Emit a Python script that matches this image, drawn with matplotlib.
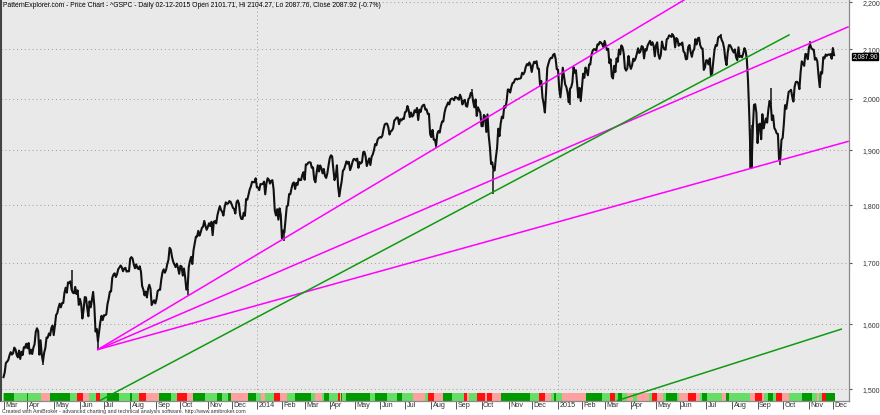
import numpy as np
import pandas as pd
import matplotlib
matplotlib.use('Agg')
import matplotlib.pyplot as plt
import matplotlib.transforms as mtransforms
from matplotlib.ticker import FixedLocator, NullLocator

plt.rcParams['font.family'] = ['Liberation Sans', 'DejaVu Sans']

# exchange holidays (no bars on these days)
holidays = ['2013-03-29', '2013-05-27', '2013-07-04', '2013-09-02', '2013-11-28', '2013-12-25',
            '2014-01-01', '2014-01-20', '2014-02-17', '2014-04-18', '2014-05-26', '2014-07-04',
            '2014-09-01', '2014-11-27', '2014-12-25',
            '2015-01-01', '2015-01-19', '2015-02-16', '2015-04-03', '2015-05-25', '2015-07-03',
            '2015-09-07', '2015-11-26']

# daily closes ^GSPC
close_2013 = [
    1518.2, 1525.2, 1539.8, 1541.5, 1544.3, 1551.2, 1556.2, 1552.5, 1554.5, 1563.2,
    1560.7, 1552.1, 1548.3, 1558.7, 1545.8, 1556.9, 1551.7, 1563.8, 1562.9, 1569.2,
    1562.2, 1570.3, 1553.7, 1560.0, 1553.3, 1563.1, 1568.6, 1587.7, 1593.4, 1588.9,
    1552.4, 1574.6, 1552.0, 1541.6, 1555.3, 1562.5, 1578.8, 1578.8, 1585.2, 1582.2, 1593.6, 1597.6,
    1582.7, 1597.6, 1614.4, 1617.5, 1626.0, 1632.7, 1626.7, 1633.7, 1633.8, 1650.3,
    1658.8, 1650.5, 1667.5, 1666.1, 1669.2, 1655.4, 1650.5, 1649.6, 1660.1, 1648.4, 1654.4, 1630.7,
    1640.4, 1631.4, 1608.9, 1622.6, 1643.4, 1642.8, 1626.1, 1612.5, 1636.4, 1626.7,
    1639.0, 1651.8, 1628.9, 1588.2, 1592.4, 1573.1, 1588.0, 1603.3, 1613.2, 1606.3,
    1614.1, 1614.1, 1615.4, 1631.9, 1640.5, 1652.3, 1652.6, 1675.0, 1680.2, 1682.5,
    1676.3, 1680.9, 1689.4, 1692.1, 1695.5, 1692.4, 1685.9, 1690.3, 1691.7, 1685.3, 1686.0, 1685.7,
    1706.9, 1709.7, 1707.1, 1697.4, 1690.9, 1697.5, 1691.4, 1689.5, 1694.2, 1685.4,
    1661.3, 1655.8, 1646.1, 1652.4, 1642.8, 1657.0, 1663.5, 1656.8, 1630.5, 1635.0, 1638.2, 1633.0,
    1639.8, 1653.1, 1655.1, 1655.2, 1671.7, 1684.0, 1689.1, 1683.4, 1688.0, 1697.6,
    1704.8, 1725.5, 1722.3, 1709.9, 1701.8, 1697.4, 1692.8, 1698.7, 1691.8, 1681.6,
    1695.0, 1693.9, 1678.7, 1690.5, 1676.1, 1655.5, 1656.4, 1692.6, 1703.2, 1710.1,
    1698.1, 1721.5, 1733.2, 1744.5, 1744.7, 1754.7, 1746.4, 1752.1, 1759.8, 1762.1, 1772.0, 1763.3, 1756.5,
    1761.6, 1767.9, 1763.0, 1770.5, 1747.2, 1770.6, 1771.9, 1767.7, 1782.0, 1790.6,
    1798.2, 1791.5, 1787.9, 1781.4, 1795.9, 1804.8, 1802.5, 1802.8, 1807.2, 1805.8,
    1800.9, 1795.2, 1792.8, 1785.0, 1805.1, 1808.4, 1802.6, 1782.2, 1775.5, 1775.3,
    1786.5, 1781.0, 1810.7, 1809.6, 1818.3, 1828.0, 1833.3, 1842.0, 1841.4, 1841.1, 1848.4]
close_2014 = [
    1832.0, 1831.4, 1826.8, 1837.9, 1837.5, 1838.1, 1842.4, 1819.2, 1838.9, 1848.4,
    1845.9, 1838.7, 1843.8, 1844.9, 1828.5, 1790.3, 1781.6, 1792.5, 1774.2, 1794.2, 1782.6,
    1741.9, 1755.2, 1751.6, 1773.4, 1797.0, 1799.8, 1819.8, 1819.3, 1829.8, 1838.6,
    1840.8, 1828.8, 1839.8, 1836.3, 1847.6, 1845.1, 1845.2, 1854.3, 1859.5,
    1845.7, 1873.9, 1873.8, 1877.0, 1878.0, 1877.2, 1867.6, 1868.2, 1846.3, 1841.1,
    1858.8, 1872.3, 1860.8, 1872.0, 1866.5, 1857.4, 1865.6, 1852.6, 1849.0, 1857.6, 1872.3,
    1885.5, 1890.9, 1888.8, 1865.1, 1845.0, 1852.0, 1872.2, 1833.1, 1815.7, 1830.6,
    1843.0, 1862.3, 1864.9, 1871.9, 1879.6, 1875.4, 1878.6, 1863.4, 1869.4, 1878.3, 1884.0,
    1883.7, 1881.1, 1884.7, 1867.7, 1878.2, 1875.6, 1878.5, 1896.7, 1897.5, 1888.5,
    1870.9, 1877.9, 1885.1, 1872.8, 1888.0, 1892.5, 1900.5, 1911.9, 1909.8, 1920.0, 1923.6,
    1925.0, 1924.2, 1927.9, 1940.5, 1949.4, 1951.3, 1950.8, 1943.9, 1930.1, 1936.2,
    1937.8, 1942.0, 1957.0, 1959.5, 1962.9, 1962.6, 1950.0, 1959.5, 1957.2, 1961.0, 1960.2,
    1973.3, 1974.6, 1985.4, 1977.7, 1963.7, 1972.8, 1964.7, 1967.6, 1977.1, 1973.3,
    1981.6, 1958.1, 1978.2, 1973.6, 1983.5, 1987.0, 1988.0, 1978.3, 1978.9, 1970.0, 1970.1, 1930.7,
    1925.2, 1939.0, 1920.2, 1920.2, 1909.6, 1931.6, 1936.9, 1933.8, 1946.7, 1955.2,
    1955.1, 1971.7, 1981.6, 1986.5, 1992.4, 1988.4, 1997.9, 2000.0, 2000.1, 1996.7, 2003.4,
    2002.3, 2000.7, 1997.7, 2007.7, 2001.5, 1988.4, 1995.7, 1997.5, 1985.5, 1984.1,
    1999.0, 2001.6, 2011.4, 2010.4, 1994.3, 1982.8, 1998.3, 1966.0, 1982.9, 1977.8, 1972.3,
    1946.2, 1946.2, 1967.9, 1964.8, 1935.1, 1968.9, 1928.2, 1906.1, 1874.7, 1877.7,
    1862.5, 1862.8, 1886.8, 1904.0, 1941.3, 1927.1, 1950.8, 1964.6, 1961.6, 1985.1, 1982.3, 1994.7, 2018.1,
    2017.8, 2012.1, 2023.6, 2031.2, 2031.9, 2038.3, 2039.7, 2038.3, 2039.8, 2039.8,
    2041.3, 2051.8, 2048.7, 2052.8, 2063.5, 2069.4, 2067.0, 2072.8, 2067.6,
    2053.4, 2066.6, 2074.3, 2071.9, 2075.4, 2060.3, 2059.8, 2026.1, 2035.3, 2002.3,
    1989.6, 1972.7, 2012.9, 2061.2, 2070.7, 2078.5, 2082.2, 2081.9, 2088.8, 2090.6, 2080.4, 2058.9]
close_2015 = [
    2058.2, 2020.6, 2002.6, 2025.9, 2062.1, 2044.8, 2028.3, 2023.0, 2011.3, 1992.7,
    2019.4, 2022.6, 2032.1, 2063.2, 2051.8, 2057.1, 2029.6, 2002.2, 2021.3, 1995.0,
    2020.9, 2050.0, 2041.5, 2062.5, 2055.5, 2046.7, 2068.6, 2068.5, 2088.5, 2097.0,
    2100.3, 2099.7, 2097.5, 2110.3, 2109.7, 2115.5, 2113.9, 2110.7, 2104.5,
    2117.4, 2107.8, 2098.5, 2101.0, 2071.3, 2079.4, 2044.2, 2040.2, 2066.0, 2053.4,
    2081.2, 2074.3, 2099.5, 2089.3, 2108.1, 2104.4, 2091.5, 2061.1, 2056.2, 2061.0, 2086.2, 2067.9,
    2059.7, 2067.0, 2080.6, 2076.3, 2081.9, 2091.2, 2102.1, 2092.4, 2095.8, 2106.6,
    2105.0, 2081.2, 2100.4, 2097.3, 2108.0, 2112.9, 2117.7, 2108.9, 2114.8, 2106.9, 2085.5,
    2108.3, 2114.5, 2089.5, 2080.2, 2088.0, 2116.1, 2105.3, 2099.9, 2099.1, 2121.1,
    2122.7, 2129.2, 2127.8, 2125.9, 2130.8, 2126.1, 2104.2, 2123.5, 2120.8, 2107.4,
    2111.7, 2109.6, 2114.1, 2095.8, 2092.8, 2079.3, 2080.2, 2105.2, 2108.9, 2094.1,
    2084.4, 2096.3, 2100.4, 2121.2, 2110.0, 2122.9, 2124.2, 2108.6, 2102.3, 2101.5, 2057.6, 2063.1,
    2077.4, 2076.8, 2068.8, 2081.3, 2046.7, 2051.3, 2076.6, 2099.6, 2109.0, 2107.4,
    2124.3, 2126.6, 2128.3, 2119.2, 2114.2, 2102.2, 2079.7, 2067.6, 2093.3, 2108.6, 2108.6, 2103.8,
    2098.0, 2093.3, 2099.8, 2083.6, 2077.6, 2104.2, 2084.1, 2086.1, 2083.4, 2091.5,
    2102.4, 2096.9, 2079.6, 2035.7, 1970.9, 1893.2, 1867.6, 1940.5, 1987.7, 1988.9, 1972.2,
    1913.9, 1948.9, 1951.1, 1921.2, 1969.4, 1942.0, 1952.3, 1961.1, 1953.0, 1978.1,
    1995.3, 1990.2, 1958.0, 1967.0, 1942.7, 1938.8, 1932.2, 1931.3, 1881.8, 1884.1, 1920.0,
    1923.8, 1951.4, 1987.1, 1979.9, 1995.8, 2013.4, 2014.9, 2017.5, 2003.7, 1994.2,
    2023.9, 2033.1, 2033.7, 2030.8, 2018.9, 2052.5, 2075.2, 2071.2, 2065.9, 2090.4, 2089.4, 2079.4,
    2104.1, 2109.8, 2102.3, 2099.9, 2099.2, 2078.6, 2081.7, 2075.0, 2046.0, 2023.0,
    2053.2, 2050.4, 2083.6, 2081.2, 2089.2, 2086.6, 2089.1, 2088.9, 2090.1, 2080.4,
    2102.6, 2087.9]

# intraday extremes that stick out of the close line
low_dates = ['2013-04-18', '2013-06-24', '2013-10-09', '2014-02-05', '2014-04-11', '2014-08-07',
             '2014-10-15', '2014-12-16', '2015-01-16', '2015-08-24', '2015-08-25', '2015-09-29',
             '2015-11-13']
low_values = [1536.0, 1560.3, 1646.5, 1737.9, 1814.4, 1904.8,
              1820.7, 1972.6, 1988.1, 1867.0, 1867.1, 1871.9,
              2022.0]
high_dates = ['2013-05-22', '2013-08-02', '2014-09-19', '2015-05-20', '2015-07-20', '2015-11-03',
              '2015-08-24', '2015-08-25', '2015-09-17']
high_values = [1687.2, 1709.7, 2019.3, 2134.7, 2132.8, 2116.5,
               1940.6, 1948.0, 2020.9]

# trend lines as (bar number, price) end points
magenta_x = [[79, 569.5], [79, 706.7], [79, 706.7]]
magenta_y = [[1560.3, 2205], [1560.3, 2147], [1560.3, 1917]]
green_x = [[80.8, 657.3], [513.8, 701]]
green_y = [[1483.5, 2130], [1483.5, 1592]]

# indicator ribbon: G dark green, g light green, p pink, r red (run lengths in bars)
strip_codes = list('gGgGgpGgrpgrgGgGgrpGgrpGgGgGpGgpgrpgGgpgGgrpGgGgGgGgpgrpGgrpgrprpGgrpgGgpGgrgGgpgpgrpgGgprpgGgpGgprpgGgrpgGgpgrGg')
strip_days = [1, 8, 11, 1, 11, 7, 17, 6, 5, 5, 6, 3, 6, 10, 9, 2, 6, 6, 11, 10, 5, 8, 5, 10, 10, 4, 5, 3,
              14, 7, 4, 3, 8, 5, 6, 6, 14, 3, 6, 2, 4, 7, 2, 1, 1, 3, 20, 4, 10, 9, 4, 9, 10, 3, 5, 7,
              8, 10, 2, 2, 7, 6, 2, 4, 8, 24, 8, 5, 5, 2, 2, 5, 20, 13, 7, 4, 3, 3, 4, 5, 4, 10, 2, 4,
              5, 3, 9, 2, 7, 7, 3, 2, 4, 13, 3, 3, 17, 4, 6, 2, 3, 4, 3, 5, 6, 11, 8, 4, 2, 2, 4, 7]
strip_colors = {'G': '#009900', 'g': '#66dd66', 'p': '#ffa0a0', 'r': '#ff1010'}

title = ('PatternExplorer.com - Price Chart - ^GSPC - Daily 02-12-2015 Open 2101.71, '
         'Hi 2104.27, Lo 2087.76, Close 2087.92 (-0.7%)')
credit = ('Created with AmiBroker - advanced charting and technical analysis software. '
          'http://www.amibroker.com')

dates = pd.bdate_range('2013-03-01', '2015-12-02', freq='C', holidays=holidays)
close = np.array(close_2013 + close_2014 + close_2015)
n = min(len(dates), len(close))
dates = dates[:n]
close = close[:n]
bars = np.arange(n)
pos = {d.strftime('%Y-%m-%d'): i for i, d in enumerate(dates)}

fig = plt.figure(figsize=(8.8, 4.15), dpi=100)
ax = fig.add_axes([1 / 880, 14.5 / 415, 848 / 880, 400.5 / 415])
ax.set_facecolor('#e9e9e9')
ax.set_yscale('log')
ax.set_ylim(1483.5, 2205)
ax.set_xlim(-2.1, 707.5)

# grid
grid_style = dict(color='#9a9a9a', linestyle=(0, (1, 3)), linewidth=0.7)
yt = [1500, 1600, 1700, 1800, 1900, 2000, 2100, 2200]
for v in yt:
    ax.axhline(v, zorder=1, **grid_style)
year_starts = [i for i in range(1, n) if dates[i].year != dates[i - 1].year]
for i in year_starts:
    ax.axvline(i, zorder=1, **grid_style)

# colour ribbon at the bottom
start = 0
for c, k in zip(strip_codes, strip_days):
    ax.axvspan(start - 0.5, start + k - 0.5, ymin=0.0, ymax=7.5 / 400.5,
               color=strip_colors[c], lw=0, zorder=2)
    start += k

# price
ax.plot(bars, close, color='#111111', lw=1.5, zorder=3)
lx = [pos[d] for d in low_dates if d in pos]
ax.vlines(lx, [v for d, v in zip(low_dates, low_values) if d in pos], close[lx],
          color='#111111', lw=1.1, zorder=3)
hx = [pos[d] for d in high_dates if d in pos]
ax.vlines(hx, close[hx], [v for d, v in zip(high_dates, high_values) if d in pos],
          color='#111111', lw=1.1, zorder=3)

# trend lines
for xs, ys in zip(magenta_x, magenta_y):
    ax.plot(xs, ys, color='#ff00ff', lw=1.1, zorder=4)
for xs, ys in zip(green_x, green_y):
    ax.plot(xs, ys, color='#119911', lw=1.1, zorder=4)

# axes
ax.spines['top'].set_visible(False)
ax.spines['left'].set_color('#444444')
ax.spines['left'].set_linewidth(1.5)
ax.spines['right'].set_color('#8a8a8a')
ax.spines['bottom'].set_color('#8a8a8a')
ax.spines['right'].set_linewidth(0.9)
ax.spines['bottom'].set_linewidth(0.9)

ax.yaxis.tick_right()
ax.yaxis.set_major_locator(FixedLocator(yt))
ax.yaxis.set_minor_locator(NullLocator())
ax.set_yticklabels([f'{v:,}' for v in yt])
ax.tick_params(axis='y', length=2, width=0.8, color='#555555', pad=7.5,
               labelsize=5.0, labelcolor='#333333')

month_starts = [0] + [i for i in range(1, n) if dates[i].month != dates[i - 1].month]
ax.set_xticks(month_starts)
ax.set_xticklabels([])
ax.tick_params(axis='x', length=6, width=0.7, color='#555555', direction='out')
xtr = ax.get_xaxis_transform()
off = mtransforms.offset_copy(xtr, fig=fig, x=1.5, y=-1.0, units='dots')
for i in month_starts:
    lab = str(dates[i].year) if dates[i].month == 1 else dates[i].strftime('%b')
    ax.text(i, 0, lab, transform=off, ha='left', va='top', fontsize=5.2, color='#333333')

# header and footer text
ax.text(0.002, 0.996, title, transform=ax.transAxes, ha='left', va='top',
        fontsize=4.9, color='black')
fig.text(0.002, 0.008, credit, ha='left', va='center', fontsize=3.8, color='#333333')

# last price marker on the value axis (nudged a little below the 2,100 label)
ytr = mtransforms.blended_transform_factory(ax.transAxes, ax.transData)
box_tr = mtransforms.offset_copy(ytr, fig=fig, x=0, y=-1.5, units='dots')
ax.text(1.004, close[-1], f'{close[-1]:,.2f}', transform=box_tr, ha='left', va='center',
        fontsize=4.8, color='white', clip_on=False,
        bbox=dict(boxstyle='square,pad=0.05', fc='black', ec='black'))

fig.savefig('out.png', dpi=100)
